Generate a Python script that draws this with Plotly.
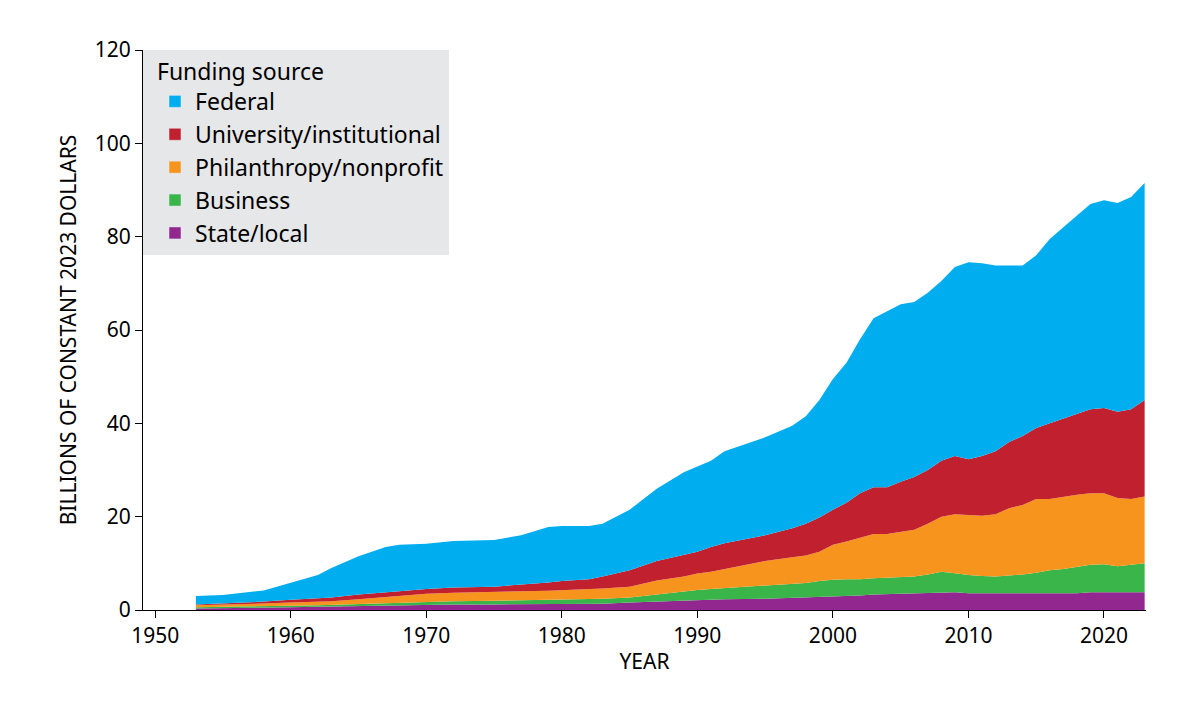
import plotly.graph_objs as go

years = [1953, 1955, 1958, 1960, 1962, 1963, 1965, 1967, 1968, 1970, 1972, 1975, 1977, 1979,
         1980, 1982, 1983, 1985, 1987, 1989, 1990, 1991, 1992, 1995, 1997, 1998, 1999, 2000,
         2001, 2002, 2003, 2004, 2005, 2006, 2007, 2008, 2009, 2010, 2011, 2012, 2013, 2014,
         2015, 2016, 2017, 2018, 2019, 2020, 2021, 2022, 2023]

# cumulative top of each layer, billions of constant 2023 dollars
top_state = [0.3, 0.35, 0.5, 0.6, 0.7, 0.75, 0.9, 1.0, 1.05, 1.2, 1.2, 1.2, 1.25, 1.3,
             1.3, 1.3, 1.35, 1.6, 1.8, 2.0, 2.1, 2.2, 2.3, 2.4, 2.6, 2.6, 2.7, 2.8,
             2.9, 3.1, 3.3, 3.4, 3.5, 3.5, 3.6, 3.8, 3.8, 3.6, 3.6, 3.6, 3.6, 3.6,
             3.6, 3.6, 3.6, 3.6, 3.8, 3.8, 3.8, 3.8, 3.8]
top_business = [0.6, 0.65, 0.8, 0.9, 1.0, 1.1, 1.3, 1.5, 1.6, 1.8, 1.9, 2.0, 2.1, 2.2,
                2.2, 2.3, 2.4, 2.7, 3.4, 4.0, 4.3, 4.5, 4.7, 5.2, 5.6, 5.8, 6.2, 6.5,
                6.6, 6.6, 6.8, 6.9, 7.0, 7.2, 7.6, 8.2, 7.9, 7.5, 7.3, 7.2, 7.4, 7.6,
                8.0, 8.5, 8.8, 9.2, 9.7, 9.8, 9.4, 9.7, 10.0]
top_phil = [1.0, 1.1, 1.4, 1.6, 1.8, 1.9, 2.3, 2.8, 3.1, 3.5, 3.7, 3.8, 4.0, 4.1,
            4.2, 4.4, 4.6, 5.0, 6.3, 7.2, 7.8, 8.2, 8.8, 10.5, 11.3, 11.7, 12.5, 14.0,
            14.7, 15.5, 16.3, 16.3, 16.8, 17.2, 18.5, 20.0, 20.5, 20.3, 20.2, 20.5, 21.8, 22.5,
            23.8, 23.8, 24.3, 24.7, 25.0, 25.0, 24.0, 23.8, 24.3]
top_univ = [1.2, 1.4, 1.8, 2.2, 2.5, 2.7, 3.3, 3.7, 4.0, 4.5, 4.8, 5.0, 5.4, 5.9,
            6.2, 6.6, 7.2, 8.5, 10.5, 11.8, 12.5, 13.5, 14.3, 16.0, 17.5, 18.5, 19.8, 21.5,
            23.0, 25.0, 26.3, 26.3, 27.5, 28.5, 30.0, 32.0, 33.0, 32.3, 33.0, 34.0, 36.0, 37.3,
            39.0, 40.0, 41.0, 42.0, 43.0, 43.3, 42.5, 43.0, 45.0]
top_federal = [3.0, 3.2, 4.2, 5.8, 7.5, 9.0, 11.5, 13.5, 14.0, 14.2, 14.8, 15.0, 16.0, 17.8,
               18.0, 18.0, 18.5, 21.5, 26.0, 29.5, 30.8, 32.0, 34.0, 37.0, 39.5, 41.5, 45.0, 49.5,
               53.0, 58.0, 62.5, 64.0, 65.5, 66.0, 68.0, 70.5, 73.5, 74.5, 74.3, 73.8, 73.8, 73.8,
               76.0, 79.5, 82.0, 84.5, 87.0, 87.8, 87.2, 88.5, 91.5]

layers = [
    ("State/local", top_state, "#92278f"),
    ("Business", top_business, "#39b54a"),
    ("Philanthropy/nonprofit", top_phil, "#f7941d"),
    ("University/institutional", top_univ, "#c1202f"),
    ("Federal", top_federal, "#00aeef"),
]

fig = go.Figure()
for i, (name, ys, col) in enumerate(layers):
    fig.add_trace(go.Scatter(x=years, y=ys, name=name, mode="lines", showlegend=False,
                             line=dict(width=0, color=col), fillcolor=col,
                             fill="tozeroy" if i == 0 else "tonexty"))
# square legend swatches
for name, ys, col in layers:
    fig.add_trace(go.Bar(x=[None], y=[None], name=name, marker_color=col))

axis_style = dict(showline=True, linecolor="black", linewidth=1.2, ticks="outside",
                  tickcolor="black", ticklen=7, showgrid=False, zeroline=False,
                  tickfont=dict(size=21, color="black"), mirror=False)

fig.update_layout(
    width=1192, height=703,
    font=dict(family="Noto Sans", color="black"),
    plot_bgcolor="white", paper_bgcolor="white",
    margin=dict(l=135, r=54, t=42, b=101),
    xaxis=dict(range=[1949.1, 2023.1], tickvals=list(range(1950, 2030, 10)),
               title=dict(text="YEAR", font=dict(size=21), standoff=6), **axis_style),
    yaxis=dict(range=[0, 120], tickvals=list(range(0, 140, 20)),
               title=dict(text="BILLIONS OF CONSTANT 2023 DOLLARS", font=dict(size=21), standoff=12),
               **axis_style),
    legend=dict(x=0, y=1, xanchor="left", yanchor="top", bgcolor="#e6e7e8",
                traceorder="reversed", font=dict(size=23),
                title=dict(text="  Funding source", font=dict(size=23)),
                borderwidth=0, itemwidth=30, indentation=12, tracegroupgap=4,
                entrywidth=320),
    showlegend=True,
)

fig.write_html("out.html")
